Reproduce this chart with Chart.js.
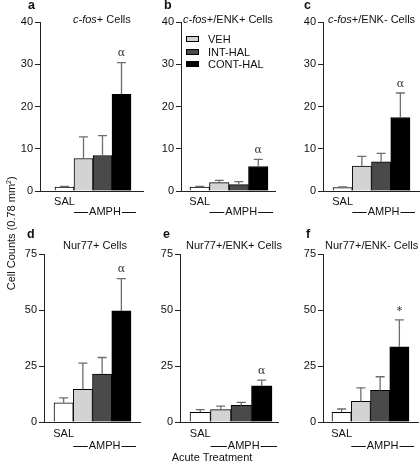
<!DOCTYPE html>
<html>
<head>
<meta charset="utf-8">
<script src="https://cdn.jsdelivr.net/npm/chart.js@4.4.1/dist/chart.umd.min.js"></script>
<style>
  body { margin: 0; width: 420px; height: 468px; position: relative; background: #fff;
         font-family: "Liberation Sans", Arial, sans-serif; color: #111; overflow: hidden; }
  .abs { position: absolute; white-space: nowrap; }
  .title { font-size: 11px; line-height: 14px; }
  .letter { font-size: 12.5px; font-weight: bold; line-height: 14px; }
  .legend { font-size: 11px; line-height: 12.5px; }
  .legend span.sw { display: inline-block; width: 11px; height: 4px; border: 1px solid #000;
                    margin-right: 9px; vertical-align: 1px; }
  canvas { position: absolute; }
</style>
</head>
<body>
<script>
// groups / treatments
const categories = ['SAL', 'VEH', 'INT-HAL', 'CONT-HAL'];
const drugGroups = ['SAL', 'AMPH'];
const fills = ['#ffffff', '#d3d3d3', '#4a4a4a', '#000000'];

const panelLetters = ['a', 'b', 'c', 'd', 'e', 'f'];
const panelTitles = ['c-fos+ Cells', 'c-fos+/ENK+ Cells', 'c-fos+/ENK- Cells',
                     'Nur77+ Cells', 'Nur77+/ENK+ Cells', 'Nur77+/ENK- Cells'];

// means (cells / 0.78 mm2) and SEM for SAL, VEH, INT-HAL, CONT-HAL
const cfosMeans = [0.9, 7.7, 8.4, 22.9];
const cfosSem = [0.2, 5.1, 4.7, 7.5];
const cfosEnkPosMeans = [0.9, 2.0, 1.5, 5.8];
const cfosEnkPosSem = [0.2, 0.5, 0.7, 1.7];
const cfosEnkNegMeans = [0.8, 5.9, 6.9, 17.4];
const cfosEnkNegSem = [0.2, 2.3, 2.0, 5.8];
const nurMeans = [8.6, 14.6, 21.4, 49.6];
const nurSem = [2.2, 11.7, 7.4, 14.4];
const nurEnkPosMeans = [4.3, 5.5, 7.4, 16.2];
const nurEnkPosSem = [1.2, 1.6, 1.4, 2.5];
const nurEnkNegMeans = [4.3, 9.2, 14.1, 33.6];
const nurEnkNegSem = [1.5, 6.0, 6.1, 12.0];

const sigMarks = [
  ['', '', '', 'α'], ['', '', '', 'α'], ['', '', '', 'α'],
  ['', '', '', 'α'], ['', '', '', 'α'], ['', '', '', '*']
];

const topTicksMax = 40, topStep = 10;
const bottomTicksMax = 75, bottomStep = 25;

const yTitle = 'Cell Counts (0.78 mm<sup style="font-size:7px">2</sup>)';
const xTitle = 'Acute Treatment';

// page geometry of each panel (pixels)
const geom = [
  { axisX: 40,  end: 143, top: 22,  zero: 191, first: 55,  last: 131, title: [73, 19],  letter: [28, 5],   lab: [11, 21] },
  { axisX: 181, end: 275, top: 22,  zero: 191, first: 190, last: 268, title: [183, 19], letter: [164, 5],  lab: [11, 21] },
  { axisX: 323, end: 419, top: 22,  zero: 191, first: 333, last: 410, title: [328, 19], letter: [304, 5],  lab: [11, 21] },
  { axisX: 44,  end: 140, top: 254, zero: 422, first: 54,  last: 131, title: [63, 245], letter: [27, 234], lab: [12, 24] },
  { axisX: 180, end: 278, top: 254, zero: 422, first: 190, last: 272, title: [186, 245], letter: [163, 234], lab: [12, 24] },
  { axisX: 323, end: 418, top: 254, zero: 422, first: 332, last: 409, title: [325, 245], letter: [306, 234], lab: [12, 24] }
];

const panelMeans = [cfosMeans, cfosEnkPosMeans, cfosEnkNegMeans, nurMeans, nurEnkPosMeans, nurEnkNegMeans];
const panelSem = [cfosSem, cfosEnkPosSem, cfosEnkNegSem, nurSem, nurEnkPosSem, nurEnkNegSem];

const FONT = '"Liberation Sans", Arial, sans-serif';
const AXIS = '#222';

function addText(cls, html, x, y, extra) {
  const d = document.createElement('div');
  d.className = 'abs ' + cls;
  d.innerHTML = html;
  d.style.left = x + 'px';
  d.style.top = (y - 7) + 'px';
  if (extra) Object.assign(d.style, extra);
  document.body.appendChild(d);
  return d;
}

function extrasPlugin(means, sem, marks, barW, lab) {
  return {
    id: 'extras',
    afterDatasetsDraw(chart) {
      const ctx = chart.ctx;
      const y = chart.scales.y;
      const bars = chart.getDatasetMeta(0).data;
      ctx.save();
      ctx.strokeStyle = '#6e6e6e';
      ctx.lineWidth = 1.3;
      bars.forEach((bar, i) => {
        const top = y.getPixelForValue(means[i] + sem[i]);
        ctx.beginPath();
        ctx.moveTo(bar.x, bar.y);
        ctx.lineTo(bar.x, top);
        ctx.moveTo(bar.x - 4.5, top);
        ctx.lineTo(bar.x + 4.5, top);
        ctx.stroke();
        if (marks[i]) {
          ctx.fillStyle = '#333';
          ctx.font = '11px "DejaVu Serif", serif';
          ctx.textAlign = 'center';
          ctx.textBaseline = 'middle';
          ctx.fillText(marks[i], bar.x, top - 9);
        }
      });

      // SAL / AMPH labels below the axis
      const bottom = chart.chartArea.bottom;
      ctx.fillStyle = '#111';
      ctx.font = '11px ' + FONT;
      ctx.textAlign = 'center';
      ctx.textBaseline = 'middle';
      ctx.fillText(drugGroups[0], bars[0].x, bottom + lab[0]);
      const l = bars[1].x - barW / 2;
      const r = bars[3].x + barW / 2 + 5;
      const cx = (l + r) / 2;
      ctx.fillText(drugGroups[1], cx, bottom + lab[1]);
      const tw = ctx.measureText(drugGroups[1]).width;
      ctx.strokeStyle = '#111';
      ctx.lineWidth = 1;
      ctx.beginPath();
      ctx.moveTo(l, bottom + lab[1] + 0.5);
      ctx.lineTo(cx - tw / 2 - 1, bottom + lab[1] + 0.5);
      ctx.moveTo(cx + tw / 2 + 1, bottom + lab[1] + 0.5);
      ctx.lineTo(r, bottom + lab[1] + 0.5);
      ctx.stroke();
      ctx.restore();
    }
  };
}

function makePanel(i) {
  const g = geom[i];
  const isTop = i < 3;
  const padL = 36, padR = 6, padT = 12, padB = 32;
  const w = (g.last - g.first) / 4;
  const c1 = g.first + w / 2;
  const xmin = 1 - (c1 - g.axisX) / w;
  const xmax = 4 + (g.end - (g.last - w / 2)) / w;

  const cv = document.createElement('canvas');
  const cw = g.end - g.axisX + padL + padR;
  const ch = g.zero - g.top + padT + padB;
  cv.width = cw; cv.height = ch;
  cv.style.left = (g.axisX - padL) + 'px';
  cv.style.top = (g.top - padT) + 'px';
  cv.style.width = cw + 'px';
  cv.style.height = ch + 'px';
  document.body.appendChild(cv);

  const means = panelMeans[i];
  new Chart(cv.getContext('2d'), {
    type: 'bar',
    data: {
      datasets: [{
        data: means.map((v, k) => ({ x: k + 1, y: v })),
        backgroundColor: fills,
        borderColor: '#000',
        borderWidth: 1,
        barThickness: w
      }]
    },
    options: {
      responsive: false,
      animation: false,
      devicePixelRatio: 1,
      layout: { padding: { left: 0, right: padR, top: padT, bottom: padB } },
      plugins: { legend: { display: false }, tooltip: { enabled: false } },
      scales: {
        x: {
          type: 'linear',
          min: xmin, max: xmax,
          offset: false,
          grid: { display: false },
          ticks: { display: false },
          border: { display: true, color: AXIS, width: 1 },
          afterFit: s => { s.height = 0; }
        },
        y: {
          min: 0,
          max: isTop ? topTicksMax : bottomTicksMax,
          ticks: { stepSize: isTop ? topStep : bottomStep, padding: 2, color: '#111',
                   font: { family: FONT, size: 11 } },
          grid: { display: true, drawOnChartArea: false, drawTicks: true, tickLength: 5, color: AXIS },
          border: { display: true, color: AXIS, width: 1 },
          afterFit: s => { s.width = padL; }
        }
      }
    },
    plugins: [extrasPlugin(means, panelSem[i], sigMarks[i], w, g.lab)]
  });

  addText('title', panelTitles[i].replace('c-fos', '<i>c-fos</i>'), g.title[0], g.title[1]);
  addText('letter', panelLetters[i], g.letter[0], g.letter[1]);
}

for (let i = 0; i < 6; i++) makePanel(i);

// legend in panel b
const leg = document.createElement('div');
leg.className = 'abs legend';
leg.style.left = '186px';
leg.style.top = '33px';
leg.innerHTML = categories.slice(1).map((c, k) =>
  '<div><span class="sw" style="background:' + fills[k + 1] + '"></span>' + c + '</div>').join('');
document.body.appendChild(leg);

// axis titles
addText('title', yTitle, 10, 232, { transform: 'translate(-50%, 0) rotate(-90deg)', transformOrigin: '50% 50%' });
addText('title', xTitle, 0, 457, { width: '420px', left: '2px', textAlign: 'center' });
</script>
</body>
</html>
